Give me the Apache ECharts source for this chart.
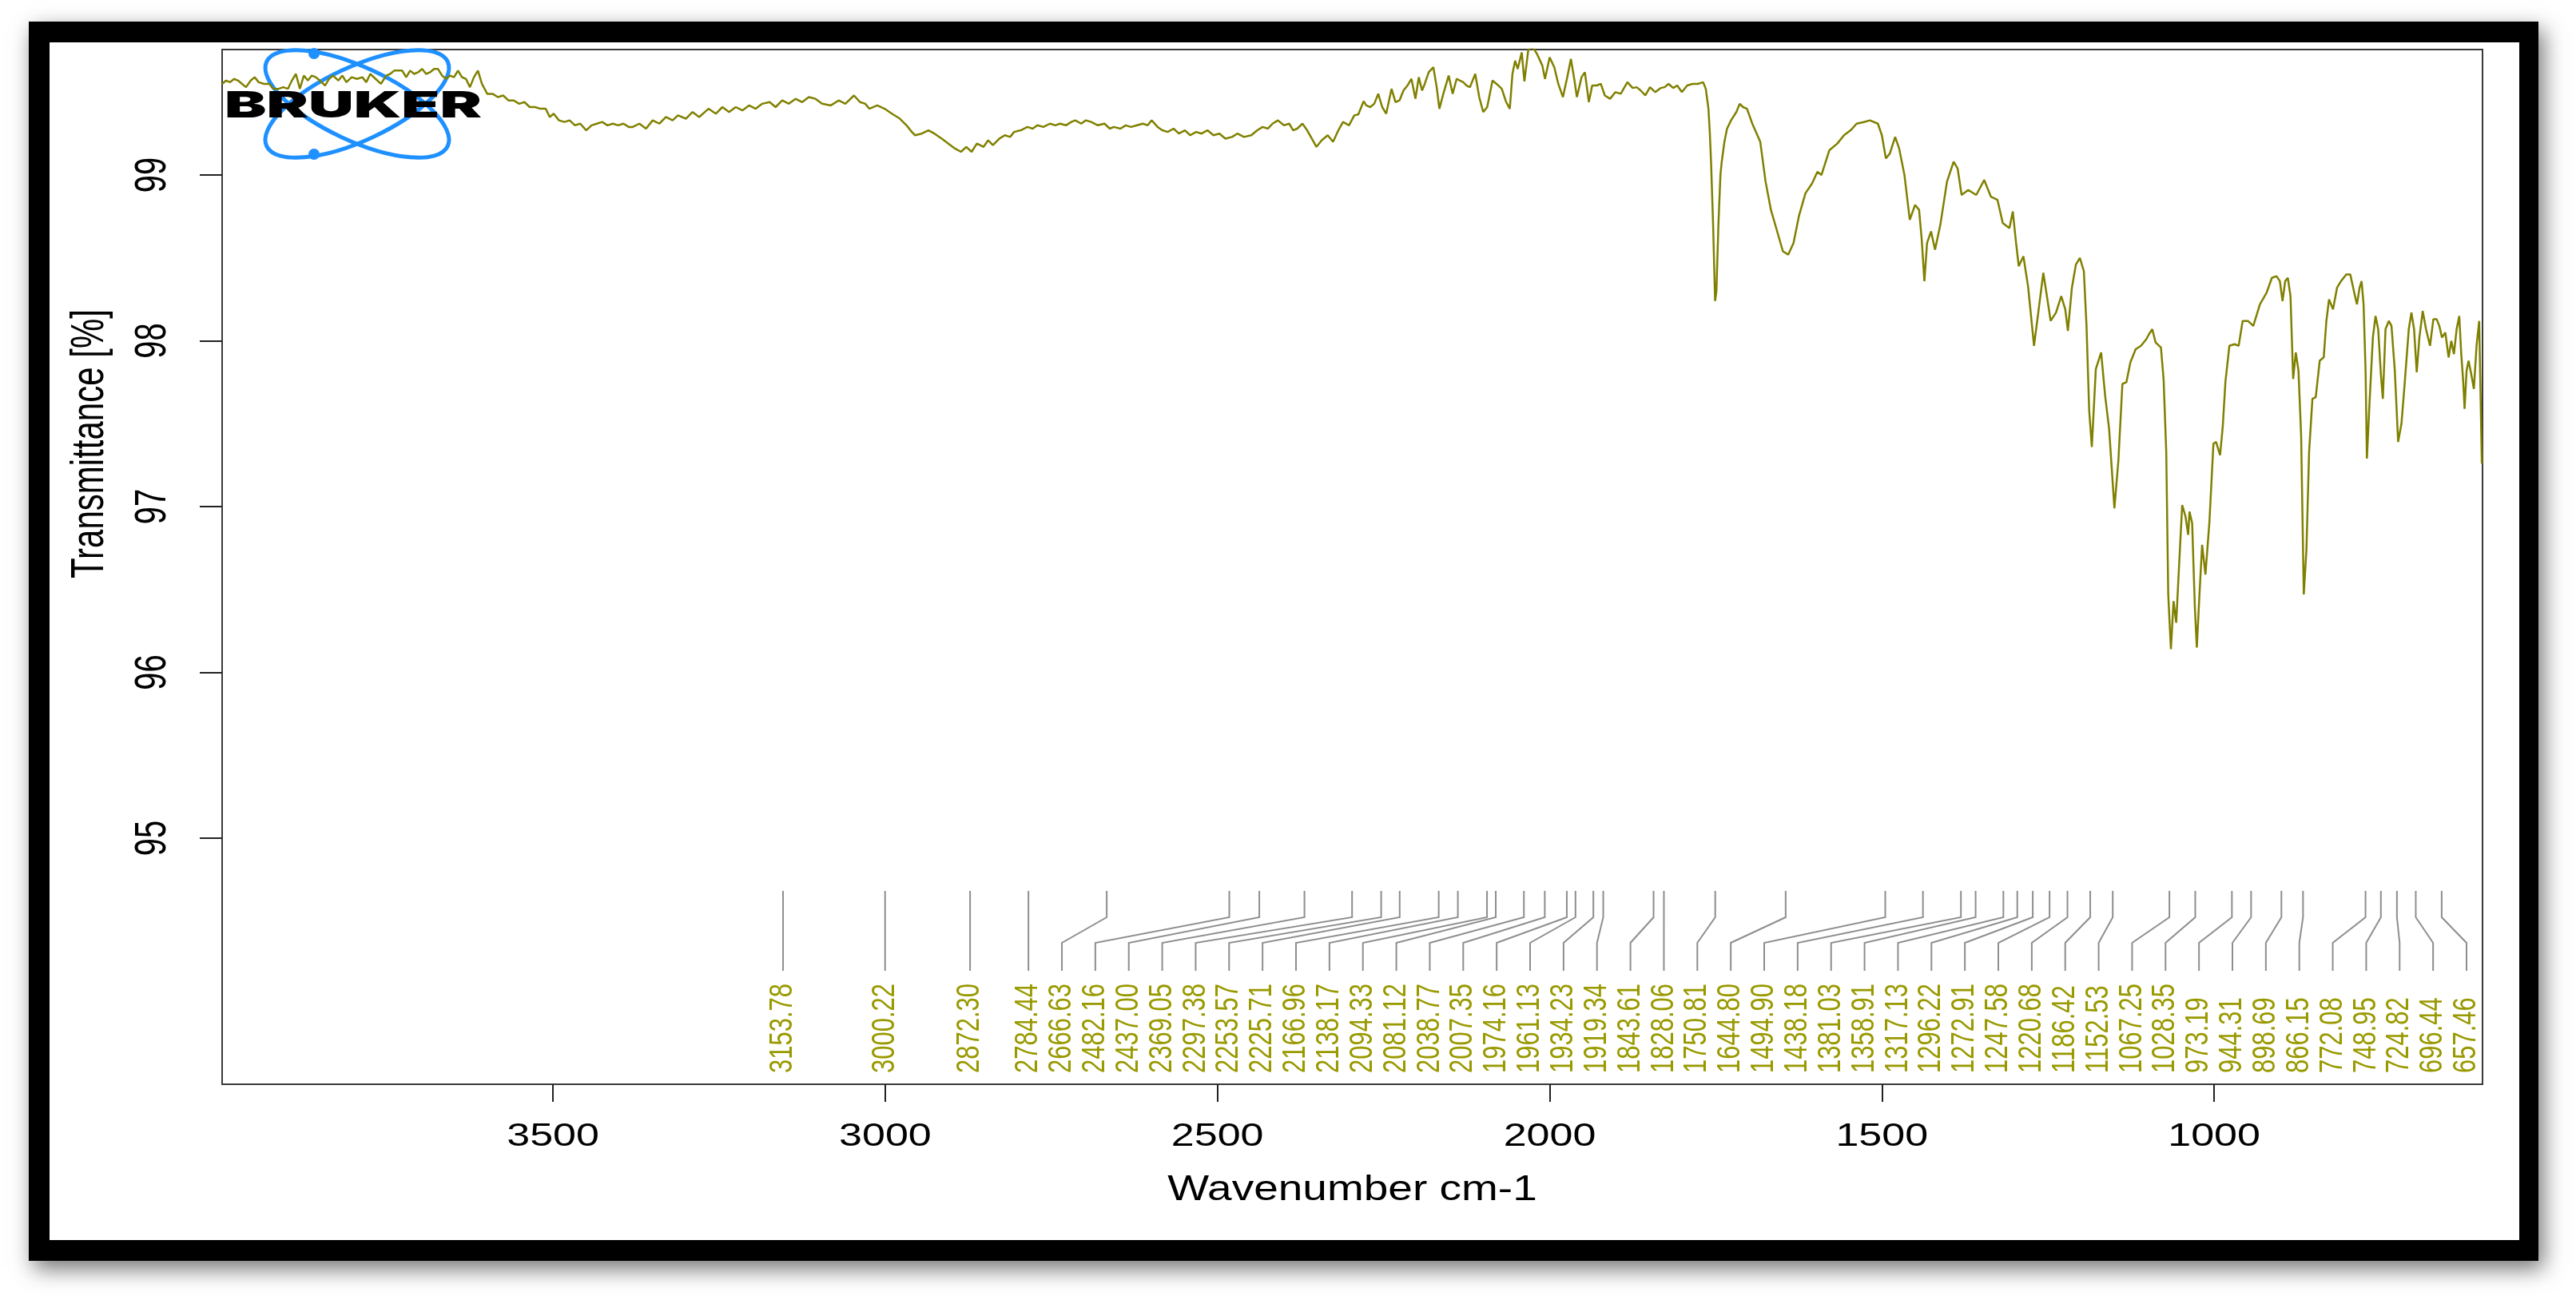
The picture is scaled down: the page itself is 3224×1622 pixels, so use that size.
<!DOCTYPE html>
<html>
<head>
<meta charset="utf-8">
<script src="https://cdn.jsdelivr.net/npm/echarts@6/dist/echarts.min.js"></script>
<style>
  html, body { margin: 0; padding: 0; background: #ffffff; }
  #chart { width: 3224px; height: 1622px; }
</style>
</head>
<body>
<div id="chart"></div>
<script>
// ---------------- DATA ----------------
// Spectrum: [wavenumber cm-1, transmittance %], high to low wavenumber
const spectrum4000to3390 = [
  [3998,99.55],[3992,99.57],[3986,99.56],[3980,99.58],[3974,99.57],[3968,99.55],[3962,99.53],[3955,99.57],
  [3949,99.59],[3943,99.56],[3935,99.55],[3927,99.55],[3921,99.52],[3913,99.52],[3906,99.53],[3899,99.52],
  [3893,99.57],[3887,99.61],[3881,99.52],[3875,99.60],[3869,99.57],[3863,99.60],[3857,99.59],[3851,99.57],
  [3843,99.54],[3837,99.58],[3831,99.60],[3823,99.57],[3817,99.60],[3811,99.56],[3803,99.59],[3795,99.58],
  [3787,99.59],[3781,99.56],[3775,99.61],[3767,99.58],[3759,99.55],[3751,99.60],[3745,99.61],[3739,99.63],
  [3733,99.63],[3727,99.63],[3721,99.59],[3715,99.63],[3709,99.61],[3703,99.62],[3697,99.64],[3691,99.61],
  [3685,99.62],[3679,99.64],[3673,99.64],[3667,99.60],[3661,99.58],[3655,99.60],[3649,99.59],[3643,99.63],
  [3637,99.59],[3631,99.58],[3625,99.53],[3619,99.59],[3613,99.63],[3607,99.55],[3599,99.49],[3591,99.49],
  [3583,99.47],[3575,99.48],[3567,99.45],[3559,99.45],[3551,99.43],[3543,99.44],[3535,99.41],[3527,99.41],
  [3519,99.40],[3511,99.40],[3505,99.35],[3499,99.37],[3491,99.33],[3483,99.32],[3475,99.33],[3467,99.30],
  [3459,99.31],[3450,99.27],[3442,99.30],[3434,99.31],[3426,99.32],[3418,99.30],[3410,99.31],[3402,99.30],
  [3394,99.31],[3386,99.29]
];
const spectrum3380to2294 = [
  [3380,99.29],[3370,99.31],[3360,99.28],[3350,99.33],[3340,99.31],[3330,99.35],[3320,99.33],[3312,99.36],
  [3300,99.34],[3290,99.38],[3280,99.35],[3266,99.40],[3255,99.37],[3245,99.41],[3235,99.38],[3225,99.41],
  [3215,99.39],[3205,99.42],[3195,99.40],[3185,99.43],[3174,99.44],[3165,99.41],[3155,99.45],[3145,99.43],
  [3135,99.46],[3125,99.44],[3115,99.47],[3105,99.46],[3095,99.43],[3082,99.42],[3070,99.45],[3060,99.43],
  [3047,99.48],[3038,99.44],[3030,99.43],[3024,99.40],[3012,99.42],[3001,99.40],[2990,99.37],[2978,99.34],
  [2968,99.30],[2960,99.26],[2955,99.24],[2945,99.25],[2935,99.27],[2926,99.25],[2915,99.22],[2905,99.19],
  [2895,99.16],[2886,99.14],[2878,99.17],[2870,99.14],[2862,99.19],[2852,99.17],[2845,99.21],[2838,99.18],
  [2828,99.22],[2820,99.24],[2812,99.23],[2806,99.26],[2796,99.27],[2786,99.29],[2778,99.28],[2771,99.30],
  [2762,99.29],[2752,99.31],[2744,99.30],[2737,99.31],[2728,99.30],[2720,99.32],[2714,99.33],[2705,99.31],
  [2698,99.33],[2690,99.32],[2680,99.30],[2670,99.31],[2662,99.28],[2656,99.29],[2646,99.28],[2638,99.30],
  [2630,99.29],[2621,99.30],[2612,99.31],[2605,99.30],[2599,99.33],[2590,99.29],[2583,99.27],[2575,99.26],
  [2566,99.28],[2558,99.25],[2549,99.27],[2541,99.24],[2532,99.26],[2524,99.25],[2515,99.27],[2506,99.24],
  [2497,99.25],[2488,99.22],[2478,99.23],[2470,99.25],[2460,99.23],[2449,99.24],[2440,99.27],[2432,99.29],
  [2424,99.28],[2417,99.31],[2409,99.33],[2400,99.30],[2392,99.31],[2386,99.27],[2380,99.28],[2372,99.31],
  [2365,99.27],[2358,99.22],[2351,99.17],[2343,99.21],[2334,99.24],[2326,99.20],[2318,99.27],[2311,99.32],
  [2302,99.30],[2294,99.36]
];
const spectrum2288to1769 = [
  [2288,99.365],[2280,99.445],[2276,99.42],[2270,99.41],[2264,99.43],[2258,99.49],[2252,99.41],[2246,99.37],
  [2238,99.52],[2232,99.44],[2226,99.45],[2220,99.51],[2214,99.54],[2208,99.58],[2202,99.46],[2197,99.59],
  [2192,99.51],[2188,99.55],[2182,99.62],[2175,99.65],[2170,99.53],[2166,99.40],[2160,99.49],[2152,99.60],
  [2146,99.49],[2140,99.58],[2135,99.57],[2130,99.56],[2125,99.54],[2120,99.53],[2112,99.61],[2106,99.47],
  [2100,99.38],[2094,99.41],[2086,99.57],[2080,99.55],[2072,99.52],[2066,99.445],[2060,99.40],[2056,99.61],
  [2052,99.69],[2048,99.64],[2042,99.74],[2038,99.565],[2032,99.76],[2025,99.77],[2019,99.73],[2011,99.66],
  [2007,99.58],[2000,99.71],[1993,99.65],[1987,99.55],[1980,99.47],[1973,99.60],[1968,99.70],[1963,99.58],
  [1959,99.47],[1952,99.59],[1947,99.62],[1941,99.44],[1936,99.54],[1929,99.54],[1923,99.55],[1917,99.48],
  [1909,99.46],[1901,99.50],[1893,99.49],[1883,99.56],[1875,99.525],[1869,99.53],[1863,99.51],[1856,99.48],
  [1849,99.53],[1841,99.50],[1833,99.525],[1827,99.53],[1821,99.55],[1814,99.525],[1808,99.54],[1801,99.50],
  [1793,99.54],[1785,99.55],[1777,99.55],[1769,99.56]
];
const spectrum1765to1196 = [
  [1765,99.52],[1761,99.40],[1759,99.26],[1757,99.07],[1754,98.70],[1751,98.24],[1749,98.30],[1746,98.70],
  [1743,99.00],[1741,99.08],[1737,99.20],[1733,99.28],[1727,99.33],[1719,99.38],[1714,99.43],[1709,99.41],
  [1703,99.40],[1695,99.31],[1683,99.20],[1675,98.96],[1667,98.79],[1659,98.68],[1649,98.54],[1641,98.52],
  [1633,98.59],[1625,98.75],[1615,98.89],[1605,98.95],[1597,99.02],[1591,99.00],[1579,99.15],[1567,99.19],
  [1557,99.24],[1547,99.27],[1538,99.31],[1527,99.32],[1518,99.33],[1506,99.31],[1500,99.24],[1494,99.10],
  [1488,99.13],[1480,99.23],[1474,99.16],[1466,99.00],[1458,98.73],[1450,98.82],[1444,98.79],[1440,98.61],
  [1436,98.36],[1432,98.59],[1426,98.66],[1420,98.55],[1412,98.70],[1402,98.96],[1392,99.08],[1386,99.04],
  [1380,98.88],[1370,98.91],[1358,98.88],[1346,98.97],[1336,98.87],[1326,98.85],[1318,98.71],[1308,98.68],
  [1303,98.78],[1298,98.59],[1294,98.45],[1287,98.51],[1280,98.33],[1271,97.97],[1264,98.19],[1257,98.41],
  [1252,98.28],[1246,98.12],[1238,98.17],[1230,98.27],[1224,98.19],[1220,98.06],[1214,98.32],[1208,98.46],
  [1202,98.50],[1196,98.42]
];
const spectrum1192to597 = [
  [1192,98.09],[1188,97.58],[1184,97.36],[1178,97.83],[1170,97.93],[1164,97.67],[1158,97.47],[1150,96.99],
  [1144,97.28],[1138,97.74],[1132,97.75],[1126,97.87],[1118,97.95],[1110,97.97],[1102,98.01],[1098,98.04],
  [1093,98.07],[1088,97.99],[1080,97.96],[1076,97.77],[1072,97.33],[1069,96.47],[1065,96.14],[1061,96.43],
  [1057,96.30],[1053,96.62],[1048,97.01],[1043,96.94],[1039,96.83],[1037,96.97],[1033,96.90],[1029,96.40],
  [1026,96.15],[1022,96.47],[1018,96.77],[1013,96.59],[1007,96.91],[1001,97.38],[997,97.39],[991,97.31],
  [987,97.48],[983,97.75],[977,97.97],[969,97.98],[963,97.97],[957,98.12],[949,98.12],[941,98.09],
  [931,98.22],[921,98.29],[913,98.38],[906,98.39],[901,98.36],[897,98.24],[893,98.36],[889,98.38],
  [885,98.27],[881,97.77],[877,97.93],[873,97.82],[869,97.43],[865,96.47],[861,96.74],[857,97.33],
  [852,97.65],[847,97.66],[841,97.88],[835,97.90],[831,98.12],[827,98.25],[821,98.19],[815,98.32],
  [809,98.36],[801,98.40],[795,98.40],[789,98.29],[785,98.22],[781,98.32],[778,98.36],[775,98.22],
  [772,97.82],[770,97.29],[766,97.63],[761,98.02],[757,98.15],[753,98.07],[749,97.80],[746,97.65],
  [742,98.07],[737,98.12],[733,98.09],[728,97.82],[723,97.39],[718,97.50],[713,97.75],[707,98.07],
  [703,98.17],[699,98.07],[695,97.81],[691,98.02],[686,98.18],[681,98.07],[675,97.97],[670,98.13],
  [665,98.13],[661,98.09],[657,98.02],[652,98.05],[647,97.90],[643,98.00],[639,97.92],[635,98.07],
  [631,98.15],[628,97.92],[625,97.75],[623,97.59],[620,97.82],[617,97.88],[613,97.80],[609,97.71],
  [605,97.97],[601,98.12],[599,97.68],[597,97.26]
];

// Picked peak positions (cm-1), as printed under the spectrum
const peakWavenumbers = [
  3153.78, 3000.22, 2872.30, 2784.44, 2666.63, 2482.16, 2437.00, 2369.05, 2297.38, 2253.57,
  2225.71, 2166.96, 2138.17, 2094.33, 2081.12, 2038.77, 2007.35, 1974.16, 1961.13, 1934.23,
  1919.34, 1843.61, 1828.06, 1750.81, 1644.80, 1494.90, 1438.18, 1381.03, 1358.91, 1317.13,
  1296.22, 1272.91, 1247.58, 1220.68, 1186.42, 1152.53, 1067.25, 1028.35, 973.19, 944.31,
  898.69, 866.15, 772.08, 748.95, 724.82, 696.44, 657.46
];

const xTickValues = [3500, 3000, 2500, 2000, 1500, 1000];
const yTickValues = [95, 96, 97, 98, 99];
const xAxisRange = [596, 3998];
const yAxisRange = [93.516, 99.757];
const xAxisTitle = 'Wavenumber cm-1';
const yAxisTitle = 'Transmittance [%]';
const logoText = 'BRUKER';

// ---------------- CHART ----------------
const W = 3224, H = 1622;
const FONT = '"Liberation Sans", Arial, Helvetica, sans-serif';
const LINE_COLOR = '#808000';
const LABEL_COLOR = '#999900';

const spectrum = [].concat(spectrum4000to3390, spectrum3380to2294, spectrum2288to1769,
                           spectrum1765to1196, spectrum1192to597);

const chart = echarts.init(document.getElementById('chart'), null, { renderer: 'canvas', width: W, height: H });

chart.setOption({
  animation: false,
  backgroundColor: '#ffffff',
  grid: {
    left: 278, top: 62, right: 117, bottom: 265,
    show: true, borderColor: '#3a3a3a', borderWidth: 2, backgroundColor: 'rgba(0,0,0,0)'
  },
  xAxis: {
    type: 'value', inverse: true, min: xAxisRange[0], max: xAxisRange[1],
    axisLine: { show: true, onZero: false, lineStyle: { color: '#3a3a3a', width: 2 } },
    axisTick: { show: true, inside: false, length: 22, customValues: xTickValues,
                lineStyle: { color: '#222', width: 2 } },
    axisLabel: { show: false },
    splitLine: { show: false }
  },
  yAxis: {
    type: 'value', min: yAxisRange[0], max: yAxisRange[1],
    axisLine: { show: true, onZero: false, lineStyle: { color: '#3a3a3a', width: 2 } },
    axisTick: { show: true, inside: false, length: 28, customValues: yTickValues,
                lineStyle: { color: '#222', width: 2 } },
    axisLabel: { show: false },
    splitLine: { show: false }
  },
  series: [{
    type: 'line',
    data: spectrum,
    showSymbol: false,
    symbol: 'none',
    clip: true,
    z: 5,
    lineStyle: { color: LINE_COLOR, width: 2.5 }
  }]
});

// ---------- overlay (frame, logo, labels, peak markers) via the axes' scales ----------
const X = v => chart.convertToPixel({ xAxisIndex: 0 }, v);
const Y = v => chart.convertToPixel({ yAxisIndex: 0 }, v);
const plotLeft = X(xAxisRange[1]);
const plotRight = X(xAxisRange[0]);
const plotTop = Y(yAxisRange[1]);
const plotBottom = Y(yAxisRange[0]);

const measureCtx = document.createElement('canvas').getContext('2d');
function textWidth(font, s) { measureCtx.font = font; return measureCtx.measureText(s).width; }

function text(o) {
  return {
    type: 'text', silent: true, x: o.x, y: o.y, z: o.z || 10,
    rotation: o.rotation || 0, scaleX: o.scaleX || 1, scaleY: o.scaleY || 1,
    style: {
      text: o.text, fill: o.fill || '#000',
      font: o.font,
      align: o.align || 'center', textAlign: o.align || 'center',
      verticalAlign: o.valign || 'middle', textVerticalAlign: o.valign || 'middle'
    }
  };
}

const elements = [];

// frame with drop shadow
elements.push({
  type: 'rect', silent: true, z: -100,
  shape: { x: 36, y: 27, width: 3141, height: 1551 },
  style: { fill: '#000', shadowBlur: 26, shadowColor: 'rgba(0,0,0,0.55)', shadowOffsetX: 6, shadowOffsetY: 10 }
});
elements.push({
  type: 'rect', silent: true, z: -99,
  shape: { x: 62, y: 53, width: 3091, height: 1499 },
  style: { fill: '#fff' }
});

// Bruker logo
const atomCx = 447, atomCy = 130, atomA = 125, atomB = 46, atomTheta = 25 * Math.PI / 180;
[1, -1].forEach(sgn => {
  elements.push({
    type: 'ellipse', silent: true, z: 1,
    x: atomCx, y: atomCy, rotation: sgn * atomTheta,
    shape: { cx: 0, cy: 0, rx: atomA, ry: atomB },
    style: { fill: null, stroke: '#1E90FF', lineWidth: 5 }
  });
});
elements.push({ type: 'circle', silent: true, z: 1, shape: { cx: 393, cy: 67, r: 7 }, style: { fill: '#1E90FF' } });
elements.push({ type: 'circle', silent: true, z: 1, shape: { cx: 393, cy: 193, r: 7 }, style: { fill: '#1E90FF' } });
const logoFont = '900 46px Inter, Lato, "DejaVu Sans", sans-serif';
const logoScale = 322 / textWidth(logoFont, logoText);
elements.push(text({ x: 281, y: 133, text: logoText, font: logoFont, align: 'left', scaleX: logoScale, z: 2 }));

// tick labels
const tickFont = '40px ' + FONT;
xTickValues.forEach(v => {
  elements.push(text({ x: X(v), y: plotBottom + 66, text: String(v), font: tickFont, scaleX: 1.3 }));
});
yTickValues.forEach(v => {
  elements.push(text({ x: plotLeft - 86, y: Y(v), text: String(v), font: tickFont,
                       rotation: Math.PI / 2, scaleY: 1.4 }));
});

// axis titles
const titleFont = '44px ' + FONT;
elements.push(text({ x: (plotLeft + plotRight) / 2, y: plotBottom + 133, text: xAxisTitle,
                     font: titleFont, scaleX: 1.25 }));
elements.push(text({ x: plotLeft - 165, y: Y((yTickValues[0] + yAxisRange[1]) / 2), text: yAxisTitle,
                     font: '42px ' + FONT, rotation: Math.PI / 2, scaleY: 1.35 }));

// peak markers and labels: spread crowded labels evenly up to the right limit
const peakX = peakWavenumbers.map(X);
const n = peakX.length;
const rightLimit = plotRight - 20;
const MIN_GAP = 42;
let start = n - 1;
for (let i = 0; i < n - 1; i++) {
  if ((rightLimit - peakX[i]) / (n - 1 - i) <= MIN_GAP) { start = i; break; }
}
const pitch = (rightLimit - peakX[start]) / Math.max(1, n - 1 - start);
const labelX = peakX.map((x, i) => (i < start ? x : peakX[start] + (i - start) * pitch));

const yLineTop = plotBottom - 242, yBend1 = plotBottom - 209, yBend2 = plotBottom - 177,
      yLineEnd = plotBottom - 142, yTextStart = plotBottom - 14;
const peakFont = '31px ' + FONT;
peakWavenumbers.forEach((w, i) => {
  elements.push({
    type: 'polyline', silent: true, z: 3,
    shape: { points: [[peakX[i], yLineTop], [peakX[i], yBend1], [labelX[i], yBend2], [labelX[i], yLineEnd]] },
    style: { stroke: '#8e8e8e', lineWidth: 2, fill: null }
  });
  elements.push(text({ x: labelX[i], y: yTextStart, text: w.toFixed(2), font: peakFont,
                       fill: LABEL_COLOR, align: 'left', rotation: Math.PI / 2, scaleY: 1.3 }));
});

chart.setOption({ graphic: elements });
</script>
</body>
</html>
